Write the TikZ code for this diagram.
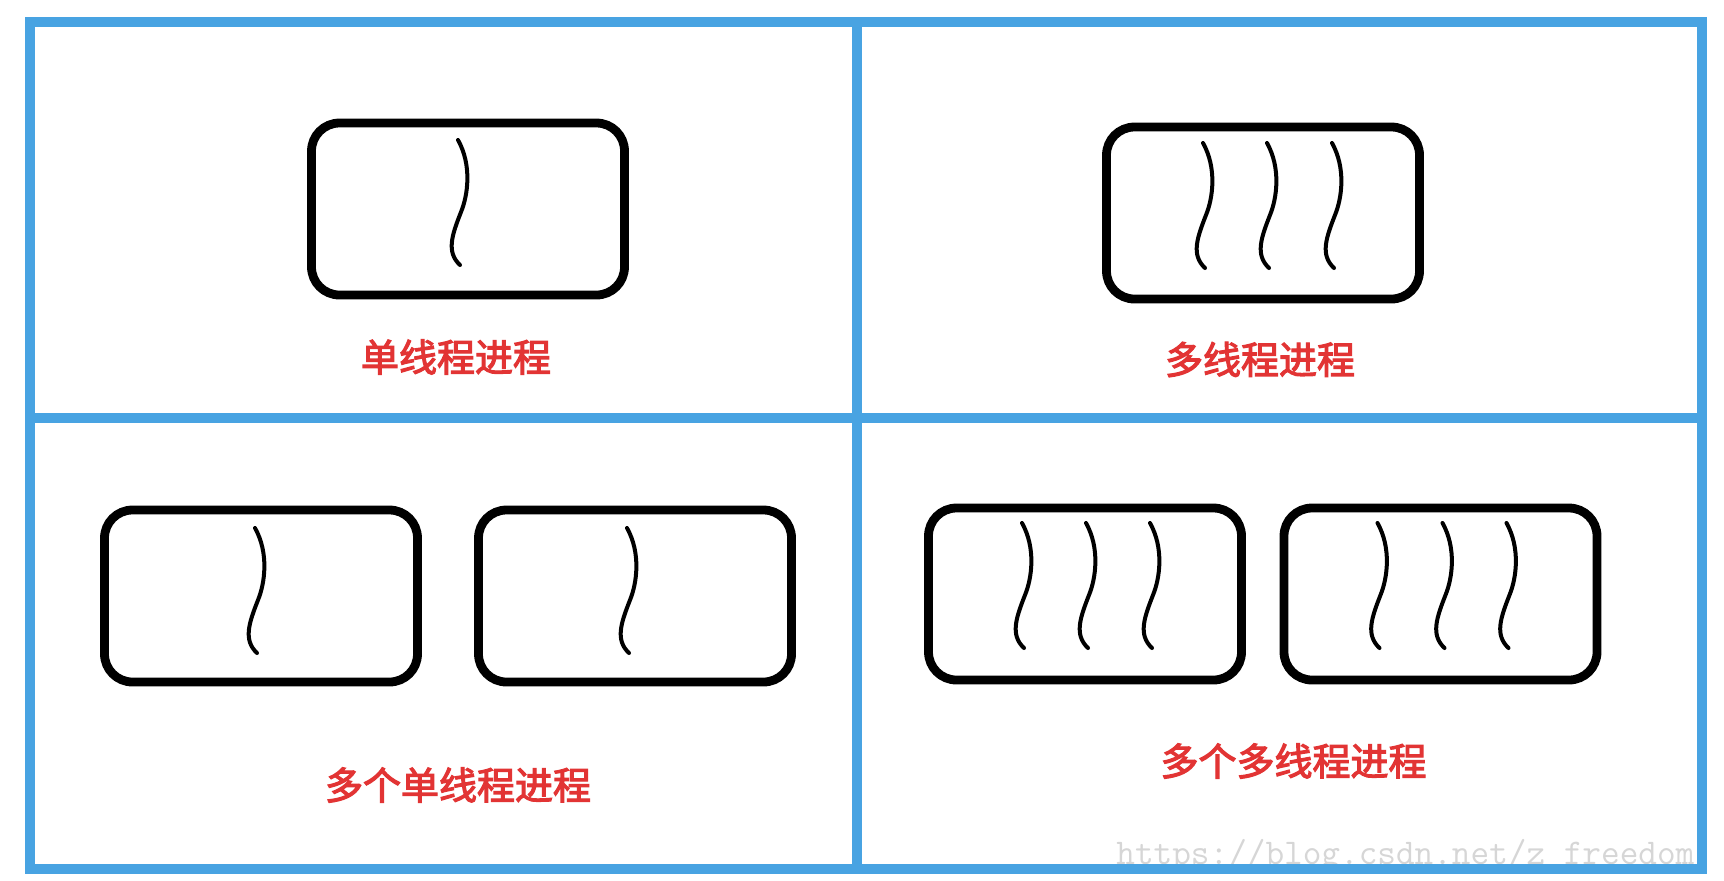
\documentclass[tikz,border=0pt]{standalone}
\usepackage{fontspec}
\newfontfamily\cjk[FakeBold=3]{Noto Sans CJK SC}
\definecolor{frameblue}{RGB}{72,163,226}
\definecolor{labelred}{RGB}{226,52,52}
\tikzset{
  frameline/.style={draw=frameblue, line width=5pt},
  proc/.style={draw=black, line width=4.4pt, rounded corners=14pt, minimum width=156.5pt, minimum height=86pt, inner sep=0pt},
  threadline/.pic={\draw[line width=2pt, line cap=round] (0,0) .. controls (14,25) and (10,55) .. (3,72) .. controls (-6,95) and (-12,112) .. (2,125);},
  lbl/.style={text=labelred, inner sep=0pt, font=\cjk\fontsize{19pt}{19pt}\selectfont},
  wmark/.style={anchor=base west, inner sep=0pt, text=black!16, font=\ttfamily\fontsize{18.1pt}{18pt}\selectfont},
}
\begin{document}
\begin{tikzpicture}[x=0.5pt,y=-0.5pt]
\useasboundingbox (0,0) rectangle (1724,880);
\fill[white] (0,0) rectangle (1724,880);
% watermark
\node[wmark] (wm) at (1116,864) {https://blog.csdn.net/z\_freedom};
% frame
\coordinate (ftl) at (29.7,22);
\coordinate (fbr) at (1702,868.5);
\coordinate (vtop) at (856.5,22);
\coordinate (vbot) at (856.5,874);
\coordinate (hl) at (29.7,417.8);
\coordinate (hr) at (1702,417.8);
\draw[frameline] (ftl) rectangle (fbr);
\draw[frameline] (vtop) -- (vbot);
\draw[frameline] (hl) -- (hr);
% processes
\node[proc] (p1) at (468,209) {};
\node[proc] (p2) at (1263,213) {};
\node[proc] (p3) at (261,596) {};
\node[proc] (p4) at (635,596) {};
\node[proc] (p5) at (1085,594) {};
\node[proc] (p6) at (1440.5,594) {};
% threads
\pic at ([shift={(-10,-69)}]p1.center) {threadline};
\pic at ([shift={(-60,-70)}]p2.center) {threadline};
\pic at ([shift={(4,-70)}]p2.center) {threadline};
\pic at ([shift={(69,-70)}]p2.center) {threadline};
\pic at ([shift={(-6,-68)}]p3.center) {threadline};
\pic at ([shift={(-8,-68)}]p4.center) {threadline};
\pic at ([shift={(-63,-71)}]p5.center) {threadline};
\pic at ([shift={(1,-71)}]p5.center) {threadline};
\pic at ([shift={(65,-71)}]p5.center) {threadline};
\pic at ([shift={(-63,-71)}]p6.center) {threadline};
\pic at ([shift={(2,-71)}]p6.center) {threadline};
\pic at ([shift={(66,-71)}]p6.center) {threadline};
% labels
\node[lbl] (l1) at (456,357) {单线程进程};
\node[lbl] (l2) at (1260,359.5) {多线程进程};
\node[lbl] (l3) at (458,785) {多个单线程进程};
\node[lbl] (l4) at (1293.5,761) {多个多线程进程};
\end{tikzpicture}
\end{document}
